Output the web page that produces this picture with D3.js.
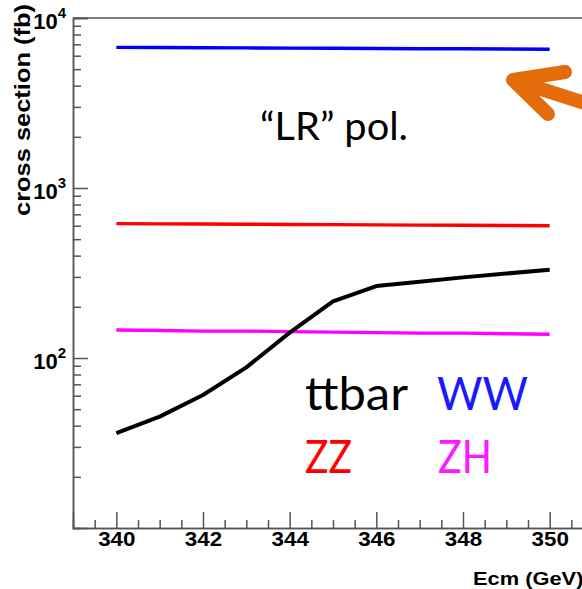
<!DOCTYPE html>
<html>
<head>
<meta charset="utf-8">
<script src="https://cdn.jsdelivr.net/npm/d3@7"></script>
<style>
  body { margin: 0; background: #fff; }
  svg { display: block; }
  .ax text { font-family: "Liberation Sans", Arial, Helvetica, sans-serif; font-weight: bold; fill: #000; }
  .ax path, .ax line { stroke: #555; stroke-width: 1.5; }
  .leg { font-family: Lato, "Open Sans", sans-serif; }
</style>
</head>
<body>
<svg id="chart" width="582" height="589"></svg>
<script>
// cross sections (fb) vs centre-of-mass energy, "LR" polarisation
var ecm   = [340, 341, 342, 343, 344, 345, 346, 347, 348, 349, 350];
var ttbar = [36.1, 45.2, 60.6, 88.1, 141, 215, 265, 281, 298, 314, 330];
var ww    = [6720, 6700, 6690, 6670, 6650, 6640, 6620, 6600, 6590, 6570, 6550];
var zz    = [617, 615, 614, 612, 610, 609, 607, 605, 604, 602, 600];
var zh    = [146, 145, 144, 144, 143, 142, 141, 140, 140, 139, 138];

var xMajor = [340, 342, 344, 346, 348, 350];
var yMajor = [10, 100, 1000, 10000];

var svg = d3.select("#chart");

var x = d3.scaleLinear().domain([339, 351]).range([73, 593]);
var y = d3.scaleLog().domain([10, 10000]).range([528, 18]);

// frame top
svg.append("line")
	.attr("x1", 73).attr("x2", 600)
	.attr("y1", 18).attr("y2", 18)
	.attr("stroke", "#555").attr("stroke-width", 1.5);

// x axis: minor then major ticks
var xMinor = d3.range(339.5, 351, 0.5).filter(function(v) { return xMajor.indexOf(v) < 0; });
svg.append("g").attr("class", "ax")
	.attr("transform", "translate(0,528)")
	.call(d3.axisBottom(x).tickValues(xMinor).tickSize(-8).tickFormat(""));

var gx = svg.append("g").attr("class", "ax")
	.attr("transform", "translate(0,528)")
	.call(d3.axisBottom(x).tickValues(xMajor).tickSize(-16).tickPadding(4).tickFormat(d3.format("d")));
gx.selectAll("text").style("font-size", "20px").attr("transform", "scale(1.12,1)");

// y axis: log minor ticks 2..9 each decade
var yMinor = [];
[10, 100, 1000].forEach(function(d) {
	for (var k = 2; k <= 9; k++) yMinor.push(d * k);
});
svg.append("g").attr("class", "ax")
	.attr("transform", "translate(73,0)")
	.call(d3.axisLeft(y).tickValues(yMinor).tickSize(-8).tickFormat(""));

var gy = svg.append("g").attr("class", "ax")
	.attr("transform", "translate(73,0)")
	.call(d3.axisLeft(y).tickValues(yMajor.slice(1)).tickSize(-15).tickFormat(""));

// labels as 10^n
gy.selectAll(".tick").each(function(d) {
	var t = d3.select(this).append("text")
		.attr("x", -7).attr("y", 10)
		.attr("text-anchor", "end");
	t.append("tspan").style("font-size", "22px").text("10");
	t.append("tspan").style("font-size", "15px").attr("dy", -11).text(Math.round(Math.log10(d)));
});

// axis titles
svg.append("text")
	.attr("transform", "translate(30,110) rotate(-90)")
	.attr("text-anchor", "middle")
	.style("font-family", "Liberation Sans, Arial, sans-serif")
	.style("font-weight", "bold")
	.style("font-size", "22px")
	.attr("textLength", 212).attr("lengthAdjust", "spacingAndGlyphs")
	.text("cross section (fb)");

svg.append("text")
	.attr("transform", "translate(473,585) scale(1.15,1)")
	.style("font-family", "Liberation Sans, Arial, sans-serif")
	.style("font-weight", "bold")
	.style("font-size", "19px")
	.text("Ecm (GeV)");

// curves
var series = [
	{ vals: ww, color: "#0000ff", w: 3.4 },
	{ vals: zz, color: "#ff0000", w: 3.4 },
	{ vals: zh, color: "#ff00ff", w: 3.4 },
	{ vals: ttbar, color: "#000000", w: 4 }
];

var line = d3.line()
	.x(function(d, i) { return x(ecm[i]); })
	.y(function(d) { return y(d); });

series.forEach(function(s) {
	svg.append("path")
		.datum(s.vals)
		.attr("d", line)
		.attr("fill", "none")
		.attr("stroke", s.color)
		.attr("stroke-width", s.w)
		.attr("stroke-linejoin", "round");
});

// annotation texts
function label(txt, px, py, size, len, color) {
	svg.append("text").attr("class", "leg")
		.attr("x", px).attr("y", py)
		.style("font-size", size + "px")
		.attr("textLength", len).attr("lengthAdjust", "spacingAndGlyphs")
		.attr("fill", color)
		.text(txt);
}
label("\u201CLR\u201D pol.", 260, 140, 39, 148, "#000");
label("ttbar", 305, 410, 46, 103, "#000");
label("WW", 437, 410, 46, 91, "#1a1aff");
label("ZZ", 305, 473, 46, 47, "#ff0000");
label("ZH", 438, 473, 46, 54, "#ff19ff");

// orange arrow pointing at the WW line
svg.append("path")
	.attr("d", "M565,72 L513,80 L548,114 M513,80 L600,108")
	.attr("fill", "none")
	.attr("stroke", "#e46c0a")
	.attr("stroke-width", 14)
	.attr("stroke-linecap", "round")
	.attr("stroke-linejoin", "round");
</script>
</body>
</html>
